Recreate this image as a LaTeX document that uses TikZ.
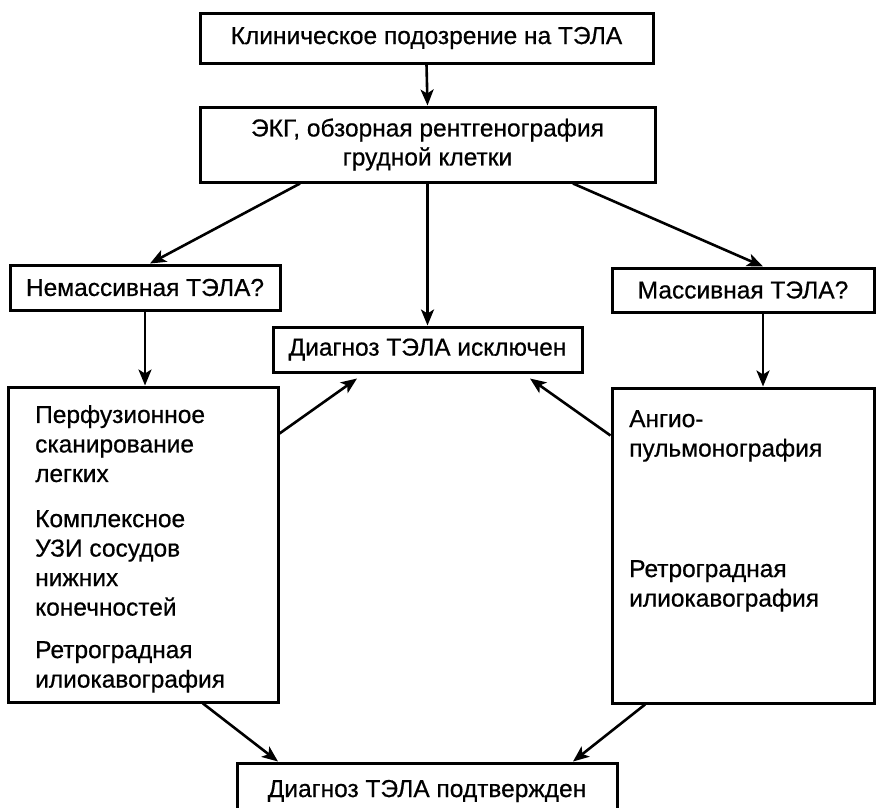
\documentclass[tikz,border=0pt]{standalone}
\usepackage{fontspec}
\setmainfont{Liberation Sans}[FakeBold=0.6]
\usetikzlibrary{arrows.meta}
\begin{document}
\begin{tikzpicture}[x=1pt,y=-1pt,
  box/.style={draw, line width=3pt, inner sep=0pt, align=center,
    font=\fontsize{24.5}{29}\selectfont},
  txt/.style={anchor=north west, inner sep=0pt, align=left,
    font=\fontsize{24.5}{29.5}\selectfont},
  arr/.style={line width=2.6pt, -{Stealth[length=16pt,width=13pt,inset=4pt]}}]
\useasboundingbox (0,0) rectangle (877,807);
\clip (0,0) rectangle (877,807);
% boxes
\node[box, minimum width=453pt, minimum height=50pt] (susp) at (426.5,38) {Клиническое подозрение на ТЭЛА};
\node[box, minimum width=455pt, minimum height=75pt] (ekg) at (427.5,144.5) {ЭКГ, обзорная рентгенография\\грудной клетки};
\node[box, minimum width=270pt, minimum height=45pt] (nemass) at (145,287.5) {Немассивная ТЭЛА?};
\node[box, minimum width=262pt, minimum height=44pt] (mass) at (743,290) {Массивная ТЭЛА?};
\node[box, minimum width=309pt, minimum height=45pt] (excl) at (427.5,349.5) {Диагноз ТЭЛА исключен};
\node[box, minimum width=270pt, minimum height=315pt] (lbox) at (143,544.5) {};
\node[box, minimum width=262pt, minimum height=315pt] (rbox) at (743,545.5) {};
\node[box, minimum width=380pt, minimum height=56pt] (conf) at (427,791) {Диагноз ТЭЛА подтвержден};
% texts inside the big boxes
\node[txt] (l1) at (35,405) {Перфузионное\\сканирование\\легких};
\node[txt] (l2) at (35,510) {Комплексное\\УЗИ сосудов\\нижних\\конечностей};
\node[txt] (l3) at (35,641) {Ретроградная\\илиокавография};
\node[txt] (r1) at (629,410) {Ангио-\\пульмонография};
\node[txt] (r2) at (629,560) {Ретроградная\\илиокавография};
% connectors
\draw[arr] (susp.south) -- (ekg.north);
\draw[arr] ([xshift=-127.5pt]ekg.south) -- ([xshift=5pt]nemass.north);
\draw[arr] (ekg.south) -- (excl.north);
\draw[arr] ([xshift=145.5pt]ekg.south) -- ([xshift=20pt]mass.north);
\draw[arr] (nemass.south) -- (nemass.south |- lbox.north);
\draw[arr] ([xshift=20pt]mass.south) -- ([xshift=20pt]rbox.north);
\draw[arr] ([yshift=-48pt]lbox.north east) -- ([xshift=-70.5pt,yshift=-5pt]excl.south);
\draw[arr] ([yshift=-49pt]rbox.north west) -- ([xshift=102.5pt,yshift=-5pt]excl.south);
\draw[arr] ([xshift=60pt]lbox.south) -- ([xshift=-149pt]conf.north);
\draw[arr] ([xshift=-98pt]rbox.south) -- ([xshift=146pt]conf.north);
\end{tikzpicture}
\end{document}
